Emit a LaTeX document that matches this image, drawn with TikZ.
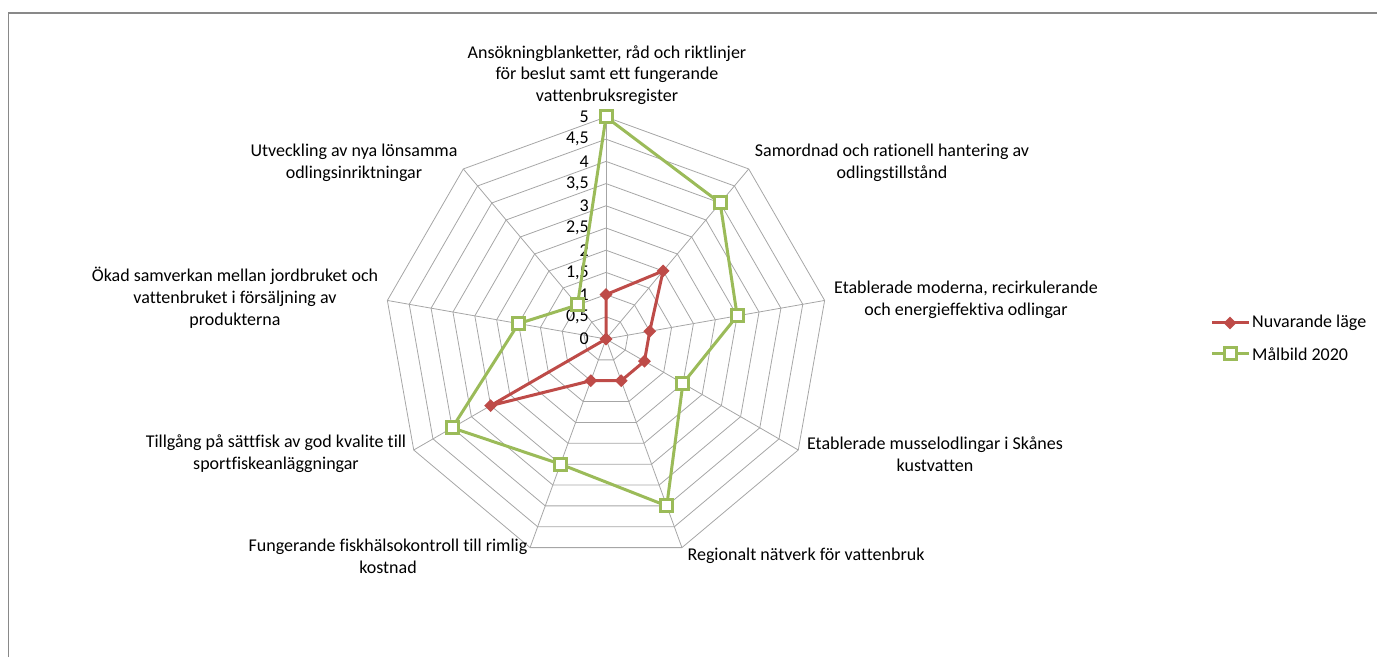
\documentclass[tikz,border=0pt]{standalone}
\usepackage{fontspec}
\setmainfont{Carlito}[Ligatures=NoCommon]
\usetikzlibrary{shapes.geometric}

\definecolor{serred}{HTML}{BE4B48}
\definecolor{sergreen}{HTML}{9BBB59}
\definecolor{gridgray}{HTML}{A6A6A6}
\definecolor{framegray}{HTML}{898989}

\begin{document}
\begin{tikzpicture}[x=1pt, y=1pt,
	lbl/.style={align=center, font=\fontsize{18}{21.8}\selectfont, inner sep=0pt, text=black},
	tick/.style={anchor=east, font=\fontsize{18}{18}\selectfont, inner sep=0pt, text=black},
	gridline/.style={draw=gridgray, line width=0.8pt},
	redline/.style={draw=serred, line width=3pt, line join=round},
	greenline/.style={draw=sergreen, line width=3pt, line join=round},
	redmark/.style={diamond, fill=serred, inner sep=0pt, minimum size=13pt},
	greenmark/.style={rectangle, draw=sergreen, fill=white, line width=3pt, inner sep=0pt, minimum size=12pt}]
	\useasboundingbox (0,0) rectangle (1377,657);
	\draw[framegray, line width=1.2pt] (8.5,0) -- (8.5,644) -- (1377,644);

	% radar grid, data and scale
	\begin{scope}[shift={(606,318)}]
		\foreach \k in {1,...,10}
			\draw[gridline] (90:\k*22.2) \foreach \i in {1,...,8} { -- (90-\i*40:\k*22.2) } -- cycle;
		\foreach \i in {0,...,8}
			\draw[gridline] (0,0) -- (90-\i*40:222);
		\foreach \t [count=\k from 0] in {0,{0,5},1,{1,5},2,{2,5},3,{3,5},4,{4,5},5}
			\node[tick] (t\k) at (-17,\k*22.2) {\t};

		\foreach \v [count=\i from 0] in {1,2,1,1,1,1,3,0,0}
			\coordinate (r\i) at (90-\i*40:\v*44.4);
		\foreach \v [count=\i from 0] in {5,4,3,2,4,3,4,2,1}
			\coordinate (g\i) at (90-\i*40:\v*44.4);

		\draw[redline] (r0) -- (r1) -- (r2) -- (r3) -- (r4) -- (r5) -- (r6) -- (r7) -- (r8) -- cycle;
		\foreach \i in {0,...,8}
			\node[redmark] (rm\i) at (r\i) {};
		\draw[greenline] (g0) -- (g1) -- (g2) -- (g3) -- (g4) -- (g5) -- (g6) -- (g7) -- (g8) -- cycle;
		\foreach \i in {0,...,8}
			\node[greenmark] (gm\i) at (g\i) {};
	\end{scope}

	% category labels
	\node[lbl] (c0) at (607,582) {Ansökningblanketter, råd och riktlinjer\\för beslut samt ett fungerande\\vattenbruksregister};
	\node[lbl] (c1) at (892,494) {Samordnad och rationell hantering av\\odlingstillstånd};
	\node[lbl] (c2) at (966,357) {Etablerade moderna, recirkulerande\\och energieffektiva odlingar};
	\node[lbl] (c3) at (935,203) {Etablerade musselodlingar i Skånes\\kustvatten};
	\node[lbl] (c4) at (806,101) {Regionalt nätverk för vattenbruk};
	\node[lbl] (c5) at (388,101) {Fungerande fiskhälsokontroll till rimlig\\kostnad};
	\node[lbl] (c6) at (276,203) {Tillgång på sättfisk av god kvalite till\\sportfiskeanläggningar};
	\node[lbl] (c7) at (235,359) {Ökad samverkan mellan jordbruket och\\vattenbruket i försäljning av\\produkterna};
	\node[lbl] (c8) at (354,494) {Utveckling av nya lönsamma\\odlingsinriktningar};

	% legend
	\coordinate (la) at (1212,334);
	\coordinate (lb) at (1249,334);
	\draw[redline] (la) -- (lb);
	\node[redmark] (lam) at (1230,334) {};
	\node[lbl, anchor=west] (lat) at (1252,334) {Nuvarande läge};
	\coordinate (lc) at (1212,303);
	\coordinate (ld) at (1249,303);
	\draw[greenline] (lc) -- (ld);
	\node[greenmark] (lcm) at (1230,303) {};
	\node[lbl, anchor=west] (lct) at (1252,303) {Målbild 2020};
\end{tikzpicture}
\end{document}
